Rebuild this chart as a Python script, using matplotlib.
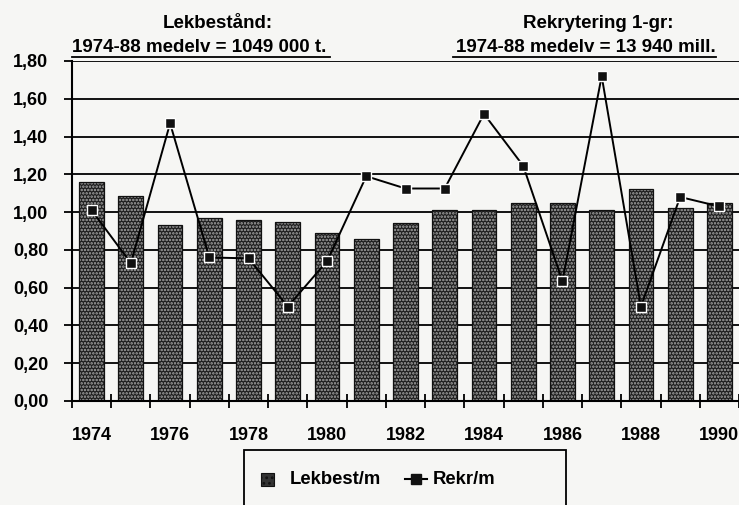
import matplotlib
matplotlib.use("Agg")
import matplotlib.pyplot as plt
from matplotlib.lines import Line2D
from matplotlib.patches import Rectangle
import numpy as np

years = list(range(1974, 1991))
lekbest = [1.16, 1.085, 0.93, 0.97, 0.96, 0.95, 0.89, 0.86, 0.94, 1.01, 1.01, 1.05, 1.05, 1.01, 1.12, 1.02, 1.05]
rekr = [1.01, 0.73, 1.47, 0.76, 0.755, 0.50, 0.74, 1.19, 1.125, 1.125, 1.52, 1.245, 0.635, 1.72, 0.50, 1.08, 1.03]
yticks = [0.0, 0.2, 0.4, 0.6, 0.8, 1.0, 1.2, 1.4, 1.6, 1.8]
ytick_labels = ["0,00", "0,20", "0,40", "0,60", "0,80", "1,00", "1,20", "1,40", "1,60", "1,80"]
legend_labels = ["Lekbest/m", "Rekr/m"]

plt.rcParams['font.family'] = ['Liberation Sans', 'DejaVu Sans']
plt.rcParams['font.weight'] = 'bold'
plt.rcParams['hatch.color'] = '#a8a8a8'
plt.rcParams['hatch.linewidth'] = 1.2

BG = '#f6f6f4'
BARFACE = '#1e1e1e'
HATCH = '.....'
W, H = 739, 505
fig = plt.figure(figsize=(W / 100, H / 100), dpi=100, facecolor=BG)
ax = fig.add_axes([72 / W, 1 - 401 / H, 667 / W, 340 / H])
ax.set_facecolor(BG)

x = np.arange(len(years))
for yv in yticks[1:]:
    ax.axhline(yv, color='black', lw=1.3, zorder=1)
ax.bar(x, lekbest, width=0.63, color=BARFACE, hatch=HATCH, linewidth=0, zorder=2)
ax.bar(x, lekbest, width=0.63, fill=False, edgecolor='#111111', linewidth=0.9, zorder=2.1)
ax.plot(x, rekr, color='black', lw=1.4, marker='s', markersize=7.5,
        markerfacecolor='#111111', markeredgecolor='white', markeredgewidth=1.0, zorder=3)

ax.set_xlim(-0.5, len(years) - 0.5)
ax.set_ylim(0, 1.8)
ax.set_yticks(yticks)
ax.set_yticklabels(ytick_labels, fontsize=13, fontweight='bold')
ax.tick_params(axis='y', length=6, width=1.3, direction='out', pad=11)
ax.set_xticks(np.arange(len(years) + 1) - 0.5, minor=False)
ax.set_xticklabels([])
ax.tick_params(axis='x', which='major', length=10, width=1.3, direction='inout')
ax.set_xticks(x[::2], minor=True)
ax.set_xticklabels([str(y) for y in years[::2]], minor=True, fontsize=13, fontweight='bold')
ax.tick_params(axis='x', which='minor', length=0, pad=19)

for s in ['top', 'right']:
    ax.spines[s].set_visible(False)
ax.spines['left'].set_linewidth(1.5)
ax.spines['bottom'].set_linewidth(1.5)

# Header texts
fs_head = 13.5
fig.text(218 / W, 1 - 23 / H, "Lekbestånd:", ha='center', va='center', fontsize=fs_head, fontweight='bold')
fig.text(72 / W, 1 - 48 / H, "1974-88 medelv = 1049 000 t.", ha='left', va='center', fontsize=fs_head, fontweight='bold')
fig.text(598 / W, 1 - 23 / H, "Rekrytering 1-gr:", ha='center', va='center', fontsize=fs_head, fontweight='bold')
fig.text(716 / W, 1 - 48 / H, "1974-88 medelv = 13 940 mill.", ha='right', va='center', fontsize=fs_head, fontweight='bold')
fig.add_artist(Line2D([72 / W, 330 / W], [1 - 57 / H, 1 - 57 / H], color='black', lw=1.3))
fig.add_artist(Line2D([453 / W, 716 / W], [1 - 57 / H, 1 - 57 / H], color='black', lw=1.3))

# Legend (drawn manually, box runs off the bottom edge)
fig.add_artist(Rectangle((244 / W, 1 - 515 / H), 322 / W, 65 / H, transform=fig.transFigure,
                         facecolor=BG, edgecolor='black', lw=1.3))
fig.add_artist(Rectangle((261 / W, 1 - 486 / H), 13 / W, 13 / H, transform=fig.transFigure,
                         facecolor='#333333', hatch='...', edgecolor='#111111', lw=0.8))
fig.add_artist(Line2D([405 / W, 427 / W], [1 - 479 / H, 1 - 479 / H], color='black', lw=1.5))
fig.add_artist(Line2D([416 / W], [1 - 479 / H], color='black', lw=0, marker='s', markersize=7,
                      markerfacecolor='#111111', markeredgecolor='#111111'))
fig.text(290 / W, 1 - 479 / H, legend_labels[0], ha='left', va='center', fontsize=13.3, fontweight='bold')
fig.text(433 / W, 1 - 479 / H, legend_labels[1], ha='left', va='center', fontsize=13.3, fontweight='bold')

fig.savefig("out.png", dpi=100, facecolor=BG)
